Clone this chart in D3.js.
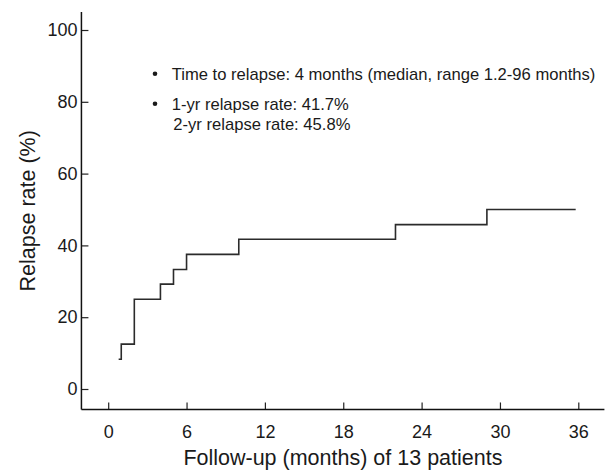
<!DOCTYPE html>
<html>
<head>
<script src="https://cdnjs.cloudflare.com/ajax/libs/d3/7.8.5/d3.min.js"></script>
<style>
  body { margin: 0; background: #fff; }
  text { font-family: "Liberation Sans", Arial, Helvetica, sans-serif; fill: #1a1a1a; }
</style>
</head>
<body>
<div id="chart"></div>
<script>
// relapse curve (step after each event)
const months = [0.8, 1, 2, 4, 5, 6, 10, 22, 29, 35.8];
const relapseRate = [8.3, 12.5, 25.0, 29.2, 33.3, 37.5, 41.7, 45.8, 50.0, 50.0];

const xTicks = [0, 6, 12, 18, 24, 30, 36];
const yTicks = [0, 20, 40, 60, 80, 100];

const notes = [
    { bullet: true, text: "Time to relapse: 4 months (median, range 1.2-96 months)" },
    { bullet: true, text: "1-yr relapse rate: 41.7%" },
    { bullet: false, text: "2-yr relapse rate: 45.8%" }
];

const xTitle = "Follow-up (months) of 13 patients";
const yTitle = "Relapse rate (%)";

const W = 607, H = 471;

const svg = d3.select("#chart")
    .append("svg")
    .attr("width", W)
    .attr("height", H);

const x = d3.scaleLinear().domain([0, 36]).range([108.2, 578.3]);
const y = d3.scaleLinear().domain([0, 100]).range([389, 30]);

// frame extends a bit past the tick range
const xFrame = [-2.05, 38];
const yFrame = [-5.7, 105];

// x axis
const gx = svg.append("g")
    .attr("transform", `translate(0,${y(yFrame[0])})`)
    .call(d3.axisBottom(x).tickValues(xTicks).tickSizeInner(-7).tickSizeOuter(0).tickPadding(16));
gx.select(".domain").remove();
gx.selectAll(".tick line").attr("stroke", "#222").attr("stroke-width", 1.2);
gx.selectAll("text").attr("font-size", 18).attr("fill", "#1a1a1a");

// y axis
const gy = svg.append("g")
    .attr("transform", `translate(${x(xFrame[0])},0)`)
    .call(d3.axisLeft(y).tickValues(yTicks).tickSizeInner(-7).tickSizeOuter(0).tickPadding(4));
gy.select(".domain").remove();
gy.selectAll(".tick line").attr("stroke", "#222").attr("stroke-width", 1.2);
gy.selectAll("text").attr("font-size", 18).attr("fill", "#1a1a1a");

// axis lines
svg.append("line")
    .attr("x1", x(xFrame[0])).attr("x2", x(xFrame[1]))
    .attr("y1", y(yFrame[0])).attr("y2", y(yFrame[0]))
    .attr("stroke", "#111").attr("stroke-width", 1.5);
svg.append("line")
    .attr("x1", x(xFrame[0])).attr("x2", x(xFrame[0]))
    .attr("y1", y(yFrame[0])).attr("y2", y(yFrame[1]))
    .attr("stroke", "#111").attr("stroke-width", 1.5);

// step curve
const line = d3.line()
    .x((d, i) => x(months[i]))
    .y(d => y(d))
    .curve(d3.curveStepAfter);

svg.append("path")
    .datum(relapseRate)
    .attr("d", line)
    .attr("fill", "none")
    .attr("stroke", "#2b2b2b")
    .attr("stroke-width", 1.6);

// notes
const baselines = [79.7, 109.7, 129.7];
notes.forEach((n, i) => {
    if (n.bullet) {
        svg.append("circle")
            .attr("cx", 155).attr("cy", baselines[i] - 6)
            .attr("r", 2.3).attr("fill", "#1a1a1a");
    }
    svg.append("text")
        .attr("x", n.bullet ? 171.7 : 173.3)
        .attr("y", baselines[i])
        .attr("font-size", 16.6)
        .text(n.text);
});

// axis titles
svg.append("text")
    .attr("x", (x(xFrame[0]) + x(xFrame[1])) / 2)
    .attr("y", 465)
    .attr("text-anchor", "middle")
    .attr("font-size", 21.5)
    .text(xTitle);

svg.append("text")
    .attr("transform", `translate(35,${(y(yFrame[0]) + y(yFrame[1])) / 2}) rotate(-90)`)
    .attr("text-anchor", "middle")
    .attr("font-size", 21.5)
    .text(yTitle);
</script>
</body>
</html>
